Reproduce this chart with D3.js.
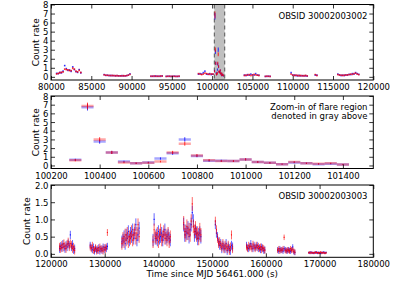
<!DOCTYPE html>
<html><head><meta charset="utf-8">
<script src="https://cdn.jsdelivr.net/npm/d3@7"></script>
<style>
body{margin:0;background:#fff;}
svg{display:block;font-family:"DejaVu Sans",sans-serif;}
</style></head>
<body>
<script>
// ---------- DATA ----------
// Panel 1: OBSID 30002003002 (200 s bins, per orbit segment)
const p1Bin = 200;
const p1SegStart = [80700, 86600, 92400, 94300, 98300, 104000, 106600, 109800, 112800, 115600];
const p1SegErr   = [0.06, 0.035, 0.025, 0.025, 0.045, 0.035, 0.025, 0.035, 0.05, 0.04];
const p1Red = [
  [0.32,0.38,0.45,0.50,0.55,0.85,0.80,0.78,0.70,0.68,0.95,0.85,0.62,0.55,0.72,0.48],
  [0.22,0.18,0.17,0.16,0.14,0.15,0.13,0.12,0.12,0.10,0.11,0.10,0.12,0.10,0.13,0.18,0.28],
  [0.08,0.05,0.10,0.06,0.08,0.05,0.10,0.08],
  [0.06,0.05,0.08,0.04,0.07,0.05,0.06,0.04,0.08],
  [0.35,0.30,0.25,0.30,0.40,0.35,0.30,0.28,0.32,0.30],
  [0.15,0.20,0.18,0.25,0.15,0.20,0.28,0.22,0.18,0.15],
  [0.05,0.08,0.04,0.06],
  [0.30,0.20,0.15,0.18,0.15,0.12,0.15,0.10,0.12,0.15,0.10],
  [0.25,0.15],
  [0.25,0.20,0.18,0.15,0.20,0.18,0.22,0.25,0.30,0.28,0.35,0.40,0.30,0.25]
];
const p1Blue = [
  [0.38,0.35,0.48,0.45,0.62,1.25,0.90,0.72,0.75,0.62,1.10,0.80,0.58,0.50,0.80,0.45],
  [0.25,0.16,0.18,0.14,0.15,0.13,0.14,0.11,0.13,0.11,0.10,0.12,0.10,0.11,0.14,0.20,0.32],
  [0.06,0.08,0.05,0.09,0.05,0.07,0.06,0.10],
  [0.05,0.07,0.04,0.06,0.05,0.08,0.04,0.06,0.05],
  [0.30,0.35,0.30,0.45,0.62,0.30,0.28,0.35,0.25,0.30],
  [0.20,0.15,0.25,0.18,0.30,0.22,0.20,0.35,0.20,0.18],
  [0.06,0.04,0.07,0.05],
  [0.45,0.18,0.20,0.15,0.12,0.15,0.10,0.13,0.10,0.12,0.08],
  [0.20,0.18],
  [0.30,0.22,0.15,0.18,0.15,0.22,0.20,0.28,0.25,0.35,0.30,0.45,0.35,0.28]
];

// Flare (50 s bins), shown in panel 1 and zoomed in panel 2
const flareBin = 50;
const flareTime = [100300,100350,100400,100450,100500,100550,100600,100650,100700,100750,100800,100850,100900,100950,101000,101050,101100,101150,101200,101250,101300,101350,101400];
const flareRed  = [0.60,6.85,3.00,1.50,0.35,0.25,0.30,0.45,1.50,2.50,1.15,0.60,0.50,0.50,0.70,0.40,0.30,0.15,0.40,0.25,0.20,0.25,0.10];
const flareBlue = [0.65,6.70,2.75,1.50,0.45,0.25,0.35,0.80,1.40,3.00,1.10,0.55,0.55,0.50,0.70,0.40,0.30,0.15,0.35,0.25,0.15,0.20,0.10];
const flareRedErr  = [0.12,0.38,0.25,0.18,0.09,0.08,0.08,0.10,0.18,0.22,0.15,0.11,0.10,0.10,0.12,0.09,0.08,0.06,0.09,0.07,0.07,0.07,0.05];
const flareBlueErr = [0.12,0.37,0.24,0.18,0.10,0.08,0.09,0.13,0.17,0.25,0.15,0.11,0.11,0.10,0.12,0.09,0.08,0.06,0.09,0.07,0.06,0.07,0.05];
const grayRegion = [100270, 101560];

// Panel 3: OBSID 30002003003 (200 s bins)
const p3Bin = 200;
const p3SegStart = [121600, 127300, 133200, 139000, 144700, 150600, 156400, 162200, 168000];
const p3SegErr   = [0.12, 0.10, 0.18, 0.18, 0.20, 0.13, 0.10, 0.08, 0.03];
const p3Red = [
  [0.20,0.15,0.25,0.18,0.30,0.22,0.15,0.28,0.35,0.20,0.30,0.25,0.15,0.20,0.10],
  [0.20,0.15,0.25,0.10,0.12,0.18,0.08,0.15,0.10,0.20,0.12,0.15,0.08,0.18,0.12,0.20,0.62],
  [0.30,0.45,0.35,0.55,0.40,0.60,0.35,0.50,0.45,0.65,0.40,0.55,0.70,0.45,0.60,0.85,0.50],
  [0.35,0.70,0.50,0.45,0.60,0.35,0.55,0.70,0.40,0.50,0.65,0.45,0.55,0.40,0.60,0.35,0.50],
  [0.90,0.65,0.55,0.80,0.60,0.70,0.55,0.95,1.45,0.80,0.65,0.75,0.55,0.60,0.45,0.70,0.55],
  [0.95,0.70,0.45,0.30,0.35,0.25,0.20,0.30,0.15,0.25,0.20,0.15,0.25,0.10,0.20,0.55,0.15],
  [0.20,0.15,0.25,0.18,0.22,0.15,0.28,0.20,0.15,0.25,0.18,0.22,0.15,0.20,0.12,0.18,0.15,0.10],
  [0.10,0.15,0.08,0.12,0.10,0.15,0.48,0.10,0.08,0.12,0.10,0.08,0.15,0.10,0.12,0.08,0.05],
  [0.03,0.05,0.02,0.04,0.03,0.02,0.05,0.03,0.04,0.02,0.03,0.05,0.02,0.04,0.03,0.02,0.03]
];
const p3Blue = [
  [0.15,0.22,0.18,0.28,0.20,0.15,0.25,0.20,0.30,0.25,0.55,0.20,0.28,0.12,0.15],
  [0.25,0.18,0.12,0.20,0.08,0.15,0.12,0.10,0.18,0.08,0.15,0.10,0.20,0.12,0.18,0.15,0.22],
  [0.35,0.40,0.50,0.30,0.55,0.45,0.65,0.40,0.60,0.50,0.70,0.45,0.60,0.85,0.40,0.55,0.75],
  [0.40,1.00,0.45,0.55,0.40,0.65,0.45,0.50,0.60,0.40,0.55,0.70,0.45,0.50,0.55,0.45,0.40],
  [0.85,0.55,0.65,0.60,0.75,0.50,0.70,0.85,1.20,0.95,0.55,0.65,0.60,0.45,0.55,0.60,0.50],
  [0.85,0.60,0.50,0.35,0.25,0.30,0.15,0.25,0.20,0.15,0.30,0.10,0.20,0.15,0.10,0.25,0.20],
  [0.25,0.18,0.15,0.22,0.30,0.20,0.15,0.25,0.18,0.20,0.25,0.15,0.18,0.12,0.20,0.15,0.10,0.12],
  [0.12,0.08,0.15,0.10,0.12,0.08,0.15,0.12,0.10,0.08,0.12,0.10,0.08,0.12,0.20,0.06,0.04],
  [0.04,0.02,0.05,0.03,0.02,0.04,0.03,0.05,0.02,0.04,0.03,0.02,0.04,0.03,0.05,0.02,0.04]
];

const p1XTicks = [80000,85000,90000,95000,100000,105000,110000,115000,120000];
const p2XTicks = [100200,100400,100600,100800,101000,101200,101400];
const p3XTicks = [120000,130000,140000,150000,160000,170000,180000];
const p12YTicks = [0,1,2,3,4,5,6,7,8];
const p3YTicks = [0,0.5,1.0,1.5,2.0];

// ---------- DRAW ----------
const W = 415, H = 289;
const svg = d3.select("body").append("svg").attr("width", W).attr("height", H);
const L = 51, R = 373.3;
const FS = 8.5;

function segPoints(starts, bin, vals, errs){
  const out = [];
  starts.forEach((s, k) => {
    vals[k].forEach((v, i) => out.push({t: s + i*bin, v, e: errs[k], w: bin}));
  });
  return out;
}
function flarePoints(vals, errs){
  return flareTime.map((t, i) => ({t, v: vals[i], e: errs[i], w: flareBin}));
}

function panel(cfg){
  const x = d3.scaleLinear().domain(cfg.xd).range([L, R]);
  const y = d3.scaleLinear().domain(cfg.yd).range([cfg.bottom, cfg.top]);
  const g = svg.append("g");
  const clipId = "c" + cfg.id;
  svg.append("clipPath").attr("id", clipId).append("rect")
    .attr("x", L).attr("y", cfg.top).attr("width", R - L).attr("height", cfg.bottom - cfg.top);

  const plot = g.append("g").attr("clip-path", `url(#${clipId})`);
  if (cfg.gray) {
    plot.append("rect").attr("x", x(cfg.gray[0])).attr("y", cfg.top)
      .attr("width", x(cfg.gray[1]) - x(cfg.gray[0])).attr("height", cfg.bottom - cfg.top)
      .attr("fill", "#bfbfbf");
    cfg.gray.forEach(gx => plot.append("line")
      .attr("x1", x(gx)).attr("x2", x(gx)).attr("y1", cfg.top).attr("y2", cfg.bottom)
      .attr("stroke", "#555").attr("stroke-width", 1).attr("stroke-dasharray", "4,3"));
  }
  cfg.series.forEach(s => {
    const sg = plot.append("g");
    sg.selectAll("line.h").data(s.pts).join("line").attr("class","h")
      .attr("x1", d => x(d.t - d.w/2)).attr("x2", d => x(d.t + d.w/2))
      .attr("y1", d => y(d.v)).attr("y2", d => y(d.v))
      .attr("stroke", s.color).attr("stroke-opacity", cfg.hOp).attr("stroke-width", cfg.hW);
    sg.selectAll("line.v").data(s.pts).join("line").attr("class","v")
      .attr("x1", d => x(d.t)).attr("x2", d => x(d.t))
      .attr("y1", d => y(d.v - d.e)).attr("y2", d => y(d.v + d.e))
      .attr("stroke", s.color).attr("stroke-opacity", cfg.vOp).attr("stroke-width", 1);
  });

  // frame
  g.append("rect").attr("x", L).attr("y", cfg.top).attr("width", R - L).attr("height", cfg.bottom - cfg.top)
    .attr("fill", "none").attr("stroke", "#000").attr("stroke-width", 1);

  // axes with inward ticks
  const tk = 4;
  const xb = g.append("g").attr("transform", `translate(0,${cfg.bottom})`)
    .call(d3.axisBottom(x).tickValues(cfg.xt).tickSize(-tk).tickPadding(4).tickFormat(d3.format("d")));
  const xt = g.append("g").attr("transform", `translate(0,${cfg.top})`)
    .call(d3.axisTop(x).tickValues(cfg.xt).tickSize(-tk).tickFormat(""));
  const yl = g.append("g").attr("transform", `translate(${L},0)`)
    .call(d3.axisLeft(y).tickValues(cfg.yt).tickSize(-tk).tickPadding(2.5).tickFormat(cfg.yf));
  const yr = g.append("g").attr("transform", `translate(${R},0)`)
    .call(d3.axisRight(y).tickValues(cfg.yt).tickSize(-tk).tickFormat(""));
  [xb, xt, yl, yr].forEach(a => {
    a.select(".domain").remove();
    a.selectAll("line").attr("stroke", "#000").attr("stroke-width", 0.8);
    a.selectAll("text").attr("font-size", FS).attr("font-family", "DejaVu Sans").attr("fill", "#000");
  });
  xb.selectAll("text").attr("dy", "0.72em");
  yl.selectAll("text").attr("dy", "0.36em");

  g.append("text").attr("transform", `translate(${cfg.ylx},${(cfg.top + cfg.bottom)/2}) rotate(-90)`)
    .attr("text-anchor", "middle").attr("font-size", FS + 0.5).text("Count rate");

  cfg.notes.forEach((n, i) => g.append("text").attr("x", 367.5).attr("y", cfg.top + 14 + i * 9.3)
    .attr("text-anchor", "end").attr("font-size", FS).text(n));
  return {x, y};
}

panel({
  id: 1, xd: [80000, 120000], yd: [-0.35, 8], top: 4.5, bottom: 80,
  xt: p1XTicks, yt: p12YTicks, yf: d3.format("d"), ylx: 38.5, gray: grayRegion,
  hOp: 0.6, hW: 1.8, vOp: 0.75,
  notes: ["OBSID 30002003002"],
  series: [
    {color: "#0000ff", pts: segPoints(p1SegStart, p1Bin, p1Blue, p1SegErr).concat(flarePoints(flareBlue, flareBlueErr))},
    {color: "#ff0000", pts: segPoints(p1SegStart, p1Bin, p1Red, p1SegErr).concat(flarePoints(flareRed, flareRedErr))}
  ]
});

panel({
  id: 2, xd: [100200, 101525], yd: [-0.35, 8], top: 96, bottom: 168.5,
  xt: p2XTicks, yt: p12YTicks, yf: d3.format("d"), ylx: 38.5,
  hOp: 0.35, hW: 2.5, vOp: 0.8,
  notes: ["Zoom-in of flare region", "denoted in gray above"],
  series: [
    {color: "#0000ff", pts: flarePoints(flareBlue, flareBlueErr)},
    {color: "#ff0000", pts: flarePoints(flareRed, flareRedErr)}
  ]
});

panel({
  id: 3, xd: [120000, 180000], yd: [-0.1, 2.0], top: 185, bottom: 257.3,
  xt: p3XTicks, yt: p3YTicks, yf: d3.format(".1f"), ylx: 30,
  hOp: 0.85, hW: 1.2, vOp: 0.6,
  notes: ["OBSID 30002003003"],
  series: [
    {color: "#0000ff", pts: segPoints(p3SegStart, p3Bin, p3Blue, p3SegErr)},
    {color: "#ff0000", pts: segPoints(p3SegStart, p3Bin, p3Red, p3SegErr)}
  ]
});

svg.append("text").attr("x", (L + R) / 2).attr("y", 277).attr("text-anchor", "middle")
  .attr("font-size", FS + 0.3).text("Time since MJD 56461.000 (s)");
</script>
</body></html>
